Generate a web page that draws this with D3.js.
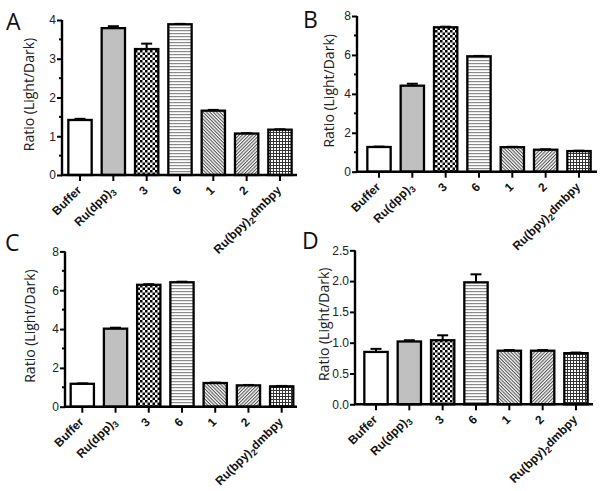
<!DOCTYPE html>
<html><head><meta charset="utf-8">
<script src="https://cdn.jsdelivr.net/npm/d3@7/dist/d3.min.js"></script>
<style>body{margin:0;background:#fff}</style>
</head><body>
<script>
const categories = ["Buffer","Ru(dpp)3","3","6","1","2","Ru(bpy)2dmbpy"];
const panelLetters = ["A","B","C","D"];
const valuesA = [1.42, 3.79, 3.25, 3.89, 1.66, 1.07, 1.17];
const errorsA = [0.03, 0.05, 0.14, 0.01, 0.02, 0.01, 0.01];
const valuesB = [1.27, 4.42, 7.42, 5.93, 1.26, 1.13, 1.06];
const errorsB = [0.02, 0.10, 0.03, 0.02, 0.02, 0.02, 0.02];
const valuesC = [1.18, 4.02, 6.28, 6.41, 1.22, 1.10, 1.05];
const errorsC = [0.02, 0.05, 0.03, 0.03, 0.02, 0.02, 0.02];
const valuesD = [0.85, 1.02, 1.04, 1.98, 0.87, 0.87, 0.83];
const errorsD = [0.05, 0.02, 0.08, 0.13, 0.01, 0.01, 0.01];
const ticksA = [0, 1, 2, 3, 4];
const ticksB = [0, 2, 4, 6, 8];
const ticksC = [0, 2, 4, 6, 8];
const ticksD = [0, 0.5, 1.0, 1.5, 2.0, 2.5];
const minorA = [0.5, 1.5, 2.5, 3.5];
const minorB = [1, 3, 5, 7];
const minorC = [1, 3, 5, 7];
const minorD = [];
const yLabel = "Ratio (Light/Dark)";

const W = 601, H = 491;
const svg = d3.select("body").append("svg").attr("width", W).attr("height", H);
const defs = svg.append("defs");

function pat(id, size, draw, transform) {
  const p = defs.append("pattern").attr("id", id).attr("patternUnits", "userSpaceOnUse")
    .attr("width", size).attr("height", size);
  if (transform) p.attr("patternTransform", transform);
  p.append("rect").attr("width", size).attr("height", size).attr("fill", "#fff");
  draw(p, size);
}
pat("checker", 5, (p) => {
  p.append("rect").attr("x", 0).attr("y", 0).attr("width", 2.5).attr("height", 2.5).attr("fill", "#000");
  p.append("rect").attr("x", 2.5).attr("y", 2.5).attr("width", 2.5).attr("height", 2.5).attr("fill", "#000");
});
pat("hlines", 3, (p) => {
  p.append("rect").attr("x", 0).attr("y", 0).attr("width", 3).attr("height", 1.2).attr("fill", "#8a8a8a");
});
pat("diagR", 2.4, (p) => {
  p.append("rect").attr("x", 0).attr("y", 0).attr("width", 2.4).attr("height", 1.1).attr("fill", "#555");
}, "rotate(45)");
pat("diagL", 2.4, (p) => {
  p.append("rect").attr("x", 0).attr("y", 0).attr("width", 2.4).attr("height", 1.1).attr("fill", "#555");
}, "rotate(-45)");
pat("grid", 3, (p) => {
  p.append("rect").attr("x", 0).attr("y", 0).attr("width", 3).attr("height", 1).attr("fill", "#333");
  p.append("rect").attr("x", 0).attr("y", 0).attr("width", 1).attr("height", 3).attr("fill", "#333");
});
const fills = ["#ffffff", "#c0c0c0", "url(#checker)", "url(#hlines)", "url(#diagR)", "url(#diagL)", "url(#grid)"];

const panels = [
  {letter: panelLetters[0], values: valuesA, errors: errorsA, ticks: ticksA, minor: minorA, fmt: d3.format("d"),
   x0: 62, x1: 297, y0: 175, yTop: 20, c0: 80, step: 33.33, lx: 6, ly: 30, labX: 29},
  {letter: panelLetters[1], values: valuesB, errors: errorsB, ticks: ticksB, minor: minorB, fmt: d3.format("d"),
   x0: 357, x1: 597, y0: 171.7, yTop: 16, c0: 379, step: 33.33, lx: 303, ly: 28, labX: 329},
  {letter: panelLetters[2], values: valuesC, errors: errorsC, ticks: ticksC, minor: minorC, fmt: d3.format("d"),
   x0: 65, x1: 297, y0: 406.7, yTop: 251.4, c0: 82.3, step: 33.23, lx: 5, ly: 251, labX: 30},
  {letter: panelLetters[3], values: valuesD, errors: errorsD, ticks: ticksD, minor: minorD, fmt: d3.format(".1f"),
   x0: 355, x1: 593, y0: 404.3, yTop: 250.3, c0: 376, step: 33.33, lx: 302, ly: 249, labX: 324},
];

panels.forEach(P => {
  const g = svg.append("g");
  const yMax = P.ticks[P.ticks.length - 1];
  const y = d3.scaleLinear().domain([0, yMax]).range([P.y0, P.yTop]);
  const x = d3.scaleBand().domain(categories)
    .range([P.c0 - P.step / 2, P.c0 + 6.5 * P.step]).paddingInner(0.3).paddingOuter(0.15);

  g.selectAll("rect.bar").data(categories).join("rect").attr("class", "bar")
    .attr("x", d => x(d)).attr("width", x.bandwidth())
    .attr("y", (d, i) => y(P.values[i])).attr("height", (d, i) => P.y0 - y(P.values[i]))
    .attr("fill", (d, i) => fills[i]).attr("stroke", "#000").attr("stroke-width", 2.3);

  const eg = g.selectAll("g.err").data(categories).join("g").attr("class", "err");
  eg.append("line")
    .attr("x1", d => x(d) + x.bandwidth() / 2).attr("x2", d => x(d) + x.bandwidth() / 2)
    .attr("y1", (d, i) => y(P.values[i])).attr("y2", (d, i) => y(P.values[i] + P.errors[i]))
    .attr("stroke", "#000").attr("stroke-width", 2);
  eg.append("line")
    .attr("x1", d => x(d) + x.bandwidth() / 2 - 5.5).attr("x2", d => x(d) + x.bandwidth() / 2 + 5.5)
    .attr("y1", (d, i) => y(P.values[i] + P.errors[i])).attr("y2", (d, i) => y(P.values[i] + P.errors[i]))
    .attr("stroke", "#000").attr("stroke-width", 2);

  const yAxis = d3.axisLeft(y).tickValues(P.ticks).tickFormat(P.fmt).tickSize(5).tickPadding(1);
  const ya = g.append("g").attr("transform", `translate(${P.x0},0)`).call(yAxis);
  ya.select(".domain").attr("stroke-width", 2.4).attr("d", `M0,${P.y0}V${P.yTop}`);
  ya.selectAll(".tick line").attr("stroke-width", 2);
  ya.selectAll(".tick text").attr("font-family", "Liberation Sans, Arial, sans-serif")
    .attr("font-size", 12).attr("fill", "#222");
  g.selectAll("line.minor").data(P.minor).join("line").attr("class", "minor")
    .attr("x1", P.x0 - 3).attr("x2", P.x0).attr("y1", d => y(d)).attr("y2", d => y(d))
    .attr("stroke", "#000").attr("stroke-width", 2);

  g.append("line").attr("x1", P.x0 - 1).attr("x2", P.x1).attr("y1", P.y0).attr("y2", P.y0)
    .attr("stroke", "#000").attr("stroke-width", 2.4);
  g.selectAll("line.xt").data(categories).join("line").attr("class", "xt")
    .attr("x1", d => x(d) + x.bandwidth() / 2).attr("x2", d => x(d) + x.bandwidth() / 2)
    .attr("y1", P.y0).attr("y2", P.y0 + 6).attr("stroke", "#000").attr("stroke-width", 2);

  const lg = g.selectAll("g.xl").data(categories).join("g").attr("class", "xl")
    .attr("transform", d => `translate(${x(d) + x.bandwidth() / 2 + 2},${P.y0 + 16})`);
  lg.append("text")
    .attr("transform", "rotate(-45)")
    .attr("text-anchor", "end")
    .style("font-family", "Liberation Sans, Arial, sans-serif").style("font-weight", "bold")
    .style("font-size", "12px").attr("fill", "#111")
    .each(function(d) {
      const t = d3.select(this);
      const m = d.match(/^(Ru\((?:dpp|bpy)\))(\d)(.*)$/);
      if (m) {
        t.append("tspan").text(m[1]);
        t.append("tspan").style("font-size", "9px").attr("dy", 3).text(m[2]);
        if (m[3]) t.append("tspan").attr("dy", -3).text(m[3]);
      } else {
        t.text(d);
      }
    });

  g.append("text")
    .attr("transform", `translate(${P.labX},${(P.y0 + P.yTop) / 2 - 3}) rotate(-90)`)
    .attr("text-anchor", "middle").attr("dy", "0.35em")
    .attr("font-family", "Open Sans, sans-serif").attr("font-size", 14).attr("fill", "#222")
    .text(yLabel);

  g.append("text").attr("x", P.lx).attr("y", P.ly)
    .attr("font-family", "Open Sans, sans-serif").attr("font-size", 23).attr("fill", "#111")
    .text(P.letter);
});
</script>
</body></html>
